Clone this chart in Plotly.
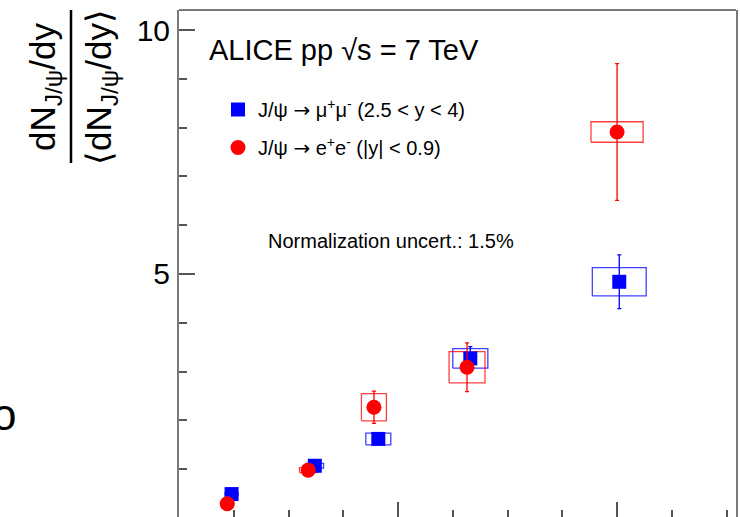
import plotly.graph_objects as go

# J/psi yield vs charged-particle multiplicity, pp at 7 TeV (relative quantities)
mu_x = [0.24, 0.62, 0.91, 1.33, 2.01]
mu_y = [0.49, 1.07, 1.62, 3.27, 4.84]
mu_stat = [0.04, 0.05, 0.10, 0.24, 0.55]
mu_sys = [0.03, 0.05, 0.12, 0.20, 0.29]
mu_halfwidth = [0.03, 0.04, 0.057, 0.08, 0.123]

ee_x = [0.22, 0.59, 0.89, 1.315, 2.0]
ee_y = [0.29, 0.98, 2.27, 3.09, 7.91]
ee_stat = [0.05, 0.12, 0.33, 0.50, 1.40]
ee_sys = [0.03, 0.05, 0.28, 0.32, 0.21]
ee_halfwidth = [0.03, 0.04, 0.057, 0.082, 0.119]

ARROW = "<span style='font-family:DejaVu Sans'>→</span>"
mu_label = f"J/ψ {ARROW} μ<sup>+</sup>μ<sup>-</sup> (2.5 < y < 4)"
ee_label = f"J/ψ {ARROW} e<sup>+</sup>e<sup>-</sup> (|y| < 0.9)"

FONT = "Liberation Sans, Arial, Helvetica, sans-serif"
BLUE = "#0000ff"
RED = "#ff0000"
FRAME = "#7a7a7a"

W, H = 740, 517
ML, MR, MT, MB = 179, 4, 10, 0


def px(xp):
    return (xp - ML) / (W - ML - MR)


def py(yp):
    return (H - MB - yp) / (H - MT - MB)


def box_path(xs, ys, hws, errs):
    bx, by = [], []
    for x, y, hw, e in zip(xs, ys, hws, errs):
        bx += [x - hw, x + hw, x + hw, x - hw, x - hw, None]
        by += [y - e, y - e, y + e, y + e, y - e, None]
    return bx, by


fig = go.Figure()

# systematic uncertainty boxes
for xs, ys, hws, errs, col in [
    (mu_x, mu_y, mu_halfwidth, mu_sys, BLUE),
    (ee_x, ee_y, ee_halfwidth, ee_sys, RED),
]:
    bx, by = box_path(xs, ys, hws, errs)
    fig.add_trace(go.Scatter(
        x=bx, y=by, mode="lines", line=dict(color=col, width=1.3),
        opacity=0.75, showlegend=False, hoverinfo="skip",
    ))

fig.add_trace(go.Scatter(
    x=mu_x, y=mu_y, mode="markers", name=mu_label, legendgroup="mu",
    marker=dict(symbol="square", size=14, color=BLUE),
    error_y=dict(type="data", array=mu_stat, color=BLUE, thickness=1.3, width=2),
))
fig.add_trace(go.Scatter(
    x=ee_x, y=ee_y, mode="markers", name=ee_label, legendgroup="ee",
    marker=dict(symbol="circle", size=15, color=RED),
    error_y=dict(type="data", array=ee_stat, color=RED, thickness=1.3, width=2),
))

fig.update_layout(
    width=W, height=H,
    margin=dict(l=ML, r=MR, t=MT, b=MB, pad=0),
    paper_bgcolor="white", plot_bgcolor="white",
    font=dict(family=FONT, color="black"),
    showlegend=True,
    legend=dict(
        x=px(218), y=py(90), xanchor="left", yanchor="top",
        bgcolor="rgba(0,0,0,0)", font=dict(size=20, family=FONT),
        traceorder="grouped", tracegroupgap=9,
    ),
    xaxis=dict(
        range=[0, 2.543], showgrid=False, zeroline=False,
        showline=False, showticklabels=False,
        ticks="inside", tick0=0, dtick=1, ticklen=15, tickwidth=1.5,
        tickcolor="#555555",
        minor=dict(ticks="inside", dtick=0.25, ticklen=7, tickwidth=1.5,
                   tickcolor="#555555", showgrid=False),
    ),
    yaxis=dict(
        range=[0.02, 10.41], showgrid=False, zeroline=False,
        showline=True, linecolor=FRAME, linewidth=2, mirror=True,
        ticks="inside", tick0=0, dtick=5, ticklen=16, tickwidth=1.5,
        tickcolor="#555555", ticklabelstandoff=1,
        tickfont=dict(size=30, family=FONT, color="black"),
        minor=dict(ticks="inside", dtick=1, ticklen=8, tickwidth=1.5,
                   tickcolor="#555555", showgrid=False),
    ),
)

# top edge of the frame
fig.add_shape(type="line", xref="paper", yref="paper", x0=0, x1=1, y0=1, y1=1,
              line=dict(color=FRAME, width=2))

# y-axis title drawn as a fraction
fig.add_annotation(text="dN<sub>J/ψ</sub>/dy", xref="paper", yref="paper",
                   x=px(45), y=py(87), textangle=-90, showarrow=False,
                   font=dict(size=35, family=FONT), xanchor="center", yanchor="middle")
fig.add_annotation(text="⟨dN<sub>J/ψ</sub>/dy⟩", xref="paper", yref="paper",
                   x=px(101), y=py(87), textangle=-90, showarrow=False,
                   font=dict(size=35, family=FONT), xanchor="center", yanchor="middle")
fig.add_shape(type="line", xref="paper", yref="paper",
              x0=px(71), x1=px(71), y0=py(10), y1=py(163),
              line=dict(color="black", width=2.5))

fig.add_annotation(text="ALICE pp √s = 7 TeV", xref="paper", yref="paper",
                   x=px(207), y=py(50), showarrow=False, xanchor="left", yanchor="middle",
                   font=dict(size=29, family=FONT))
fig.add_annotation(text="Normalization uncert.: 1.5%", xref="paper", yref="paper",
                   x=px(266), y=py(241), showarrow=False, xanchor="left", yanchor="middle",
                   font=dict(size=20, family=FONT))
fig.add_annotation(text="o", xref="paper", yref="paper",
                   x=px(18), y=py(414), showarrow=False, xanchor="right", yanchor="middle",
                   font=dict(size=44, family=FONT))

fig.write_html("out.html")
